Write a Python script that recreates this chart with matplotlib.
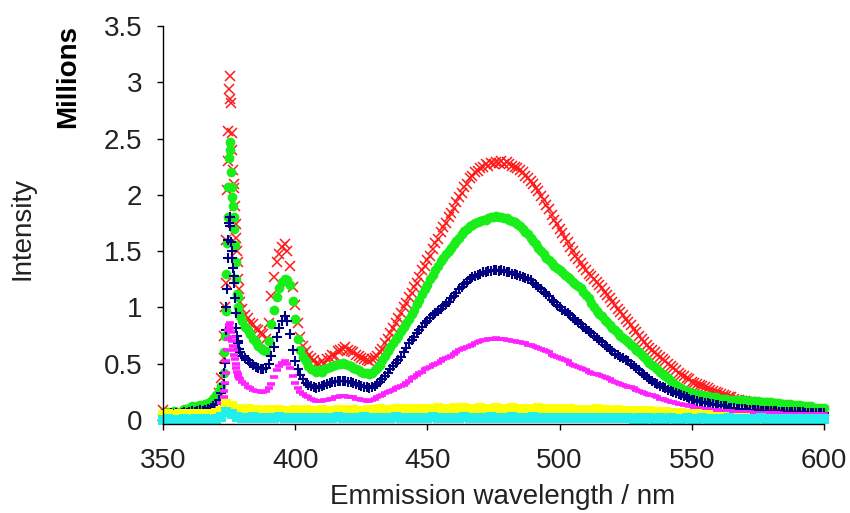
import numpy as np
import matplotlib.pyplot as plt

plt.rcParams['font.family'] = ['Liberation Sans', 'DejaVu Sans']

# wavelength grid (nm): 1 nm steps, finer sampling across the 375 nm line
wavelength = np.concatenate([np.arange(350, 373), np.arange(373, 379, 0.25), np.arange(379, 601)])

# intensities in millions of counts
red = [
    0.09, 0.05, 0.04, 0.06, 0.04, 0.05, 0.03, 0.06, 0.05, 0.04,
    0.06, 0.05, 0.07, 0.06, 0.06, 0.08, 0.09, 0.09, 0.12, 0.13, 0.18, 0.24, 0.37,
    0.55, 0.75, 1.00, 1.22, 1.60, 2.04, 2.30, 2.57, 2.94, 3.06, 2.85, 2.82,
    2.55, 2.40, 2.22, 2.10, 2.06, 1.90, 1.74, 1.62, 1.50, 1.40, 1.25, 1.16,
    1.05, 0.99, 0.93, 0.91, 0.86, 0.85, 0.81, 0.80, 0.77, 0.76, 0.72,
    0.86, 1.10, 1.27, 1.40, 1.47, 1.54, 1.56, 1.50, 1.37, 1.18,
    1.02, 0.86, 0.74, 0.66, 0.61, 0.57, 0.55, 0.53, 0.50, 0.50,
    0.52, 0.50, 0.54, 0.55, 0.58, 0.57, 0.61, 0.62, 0.63, 0.65,
    0.62, 0.61, 0.60, 0.58, 0.57, 0.55, 0.54, 0.53, 0.52, 0.54,
    0.55, 0.57, 0.60, 0.63, 0.68, 0.72, 0.77, 0.82, 0.86, 0.91,
    0.95, 1.00, 1.04, 1.09, 1.13, 1.18, 1.22, 1.27, 1.33, 1.37,
    1.42, 1.46, 1.52, 1.57, 1.61, 1.67, 1.71, 1.75, 1.80, 1.84,
    1.88, 1.94, 1.98, 2.02, 2.07, 2.10, 2.15, 2.17, 2.20, 2.21,
    2.24, 2.25, 2.27, 2.26, 2.28, 2.27, 2.29, 2.28, 2.30, 2.27,
    2.29, 2.27, 2.26, 2.25, 2.24, 2.22, 2.20, 2.17, 2.15, 2.12,
    2.10, 2.06, 2.03, 1.99, 1.95, 1.91, 1.87, 1.82, 1.78, 1.74,
    1.70, 1.66, 1.62, 1.58, 1.54, 1.50, 1.46, 1.43, 1.39, 1.36,
    1.33, 1.30, 1.28, 1.25, 1.23, 1.20, 1.17, 1.14, 1.11, 1.08,
    1.05, 1.02, 0.99, 0.96, 0.93, 0.90, 0.87, 0.84, 0.81, 0.78,
    0.75, 0.72, 0.69, 0.67, 0.64, 0.62, 0.60, 0.58, 0.56, 0.54,
    0.52, 0.50, 0.48, 0.46, 0.44, 0.42, 0.40, 0.39, 0.37, 0.36,
    0.34, 0.33, 0.32, 0.31, 0.30, 0.29, 0.28, 0.27, 0.26, 0.25,
    0.24, 0.23, 0.22, 0.21, 0.20, 0.20, 0.19, 0.18, 0.18, 0.17,
    0.17, 0.16, 0.16, 0.15, 0.15, 0.14, 0.14, 0.13, 0.13, 0.13,
    0.12, 0.12, 0.12, 0.11, 0.11, 0.11, 0.11, 0.10, 0.10, 0.10,
    0.10, 0.10, 0.09, 0.09, 0.09, 0.09, 0.09, 0.08, 0.08, 0.08,
    0.08,
]

green = [
    0.06, 0.05, 0.07, 0.06, 0.08, 0.07, 0.06, 0.08, 0.10, 0.09,
    0.11, 0.12, 0.11, 0.12, 0.13, 0.12, 0.14, 0.15, 0.17, 0.19, 0.22, 0.26, 0.30,
    0.42, 0.60, 0.75, 0.97, 1.30, 1.57, 1.80, 2.07, 2.33, 2.40, 2.47, 2.20,
    2.07, 1.98, 1.90, 1.80, 1.70, 1.55, 1.40, 1.25, 1.12, 1.09, 1.00, 0.94,
    0.92, 0.88, 0.83, 0.80, 0.76, 0.72, 0.69, 0.66, 0.64, 0.62, 0.61,
    0.70, 0.85, 0.98, 1.09, 1.17, 1.23, 1.25, 1.24, 1.20, 1.06,
    0.90, 0.72, 0.62, 0.56, 0.52, 0.48, 0.45, 0.44, 0.43, 0.44,
    0.43, 0.45, 0.46, 0.47, 0.48, 0.49, 0.50, 0.50, 0.51, 0.50,
    0.49, 0.48, 0.46, 0.45, 0.44, 0.43, 0.42, 0.42, 0.41, 0.42,
    0.44, 0.46, 0.49, 0.53, 0.57, 0.61, 0.65, 0.68, 0.72, 0.75,
    0.79, 0.83, 0.86, 0.90, 0.94, 0.98, 1.03, 1.07, 1.12, 1.16,
    1.20, 1.25, 1.29, 1.33, 1.37, 1.41, 1.44, 1.47, 1.50, 1.53,
    1.56, 1.59, 1.62, 1.65, 1.68, 1.70, 1.72, 1.73, 1.75, 1.76,
    1.77, 1.78, 1.78, 1.79, 1.80, 1.80, 1.81, 1.80, 1.80, 1.79,
    1.79, 1.78, 1.77, 1.76, 1.74, 1.72, 1.70, 1.67, 1.65, 1.62,
    1.59, 1.56, 1.53, 1.50, 1.47, 1.44, 1.42, 1.39, 1.37, 1.35,
    1.33, 1.31, 1.29, 1.27, 1.25, 1.23, 1.21, 1.19, 1.17, 1.14,
    1.11, 1.08, 1.04, 1.00, 0.97, 0.94, 0.92, 0.89, 0.87, 0.84,
    0.82, 0.80, 0.77, 0.75, 0.73, 0.71, 0.69, 0.67, 0.65, 0.62,
    0.60, 0.58, 0.56, 0.53, 0.51, 0.49, 0.47, 0.45, 0.43, 0.41,
    0.39, 0.37, 0.35, 0.33, 0.31, 0.29, 0.28, 0.27, 0.26, 0.25,
    0.24, 0.23, 0.23, 0.22, 0.22, 0.21, 0.21, 0.20, 0.20, 0.20,
    0.19, 0.19, 0.19, 0.19, 0.18, 0.18, 0.18, 0.18, 0.18, 0.18,
    0.18, 0.17, 0.17, 0.17, 0.17, 0.17, 0.16, 0.16, 0.16, 0.16,
    0.16, 0.15, 0.15, 0.15, 0.14, 0.14, 0.14, 0.14, 0.13, 0.13,
    0.13, 0.13, 0.12, 0.12, 0.12, 0.12, 0.11, 0.11, 0.11, 0.11,
    0.11,
]

navy = [
    0.05, 0.04, 0.05, 0.06, 0.05, 0.06, 0.05, 0.06, 0.07, 0.06,
    0.07, 0.08, 0.07, 0.08, 0.09, 0.08, 0.09, 0.10, 0.11, 0.12, 0.14, 0.18, 0.24,
    0.32, 0.42, 0.51, 0.80, 1.00, 1.16, 1.44, 1.60, 1.75, 1.80, 1.72, 1.58,
    1.50, 1.44, 1.35, 1.28, 1.22, 1.08, 0.95, 0.82, 0.75, 0.70, 0.68, 0.63,
    0.60, 0.57, 0.55, 0.53, 0.51, 0.49, 0.47, 0.46, 0.45, 0.45, 0.46,
    0.50, 0.57, 0.65, 0.74, 0.82, 0.88, 0.92, 0.88, 0.76, 0.62,
    0.52, 0.45, 0.40, 0.36, 0.33, 0.31, 0.30, 0.29, 0.28, 0.29,
    0.30, 0.31, 0.32, 0.33, 0.34, 0.34, 0.35, 0.35, 0.35, 0.35,
    0.34, 0.34, 0.33, 0.32, 0.31, 0.30, 0.29, 0.29, 0.28, 0.29,
    0.30, 0.32, 0.34, 0.36, 0.39, 0.42, 0.45, 0.48, 0.51, 0.53,
    0.56, 0.60, 0.64, 0.68, 0.71, 0.74, 0.77, 0.80, 0.83, 0.86,
    0.88, 0.91, 0.93, 0.95, 0.97, 0.99, 1.01, 1.03, 1.05, 1.08,
    1.10, 1.13, 1.16, 1.18, 1.21, 1.23, 1.25, 1.27, 1.28, 1.29,
    1.30, 1.31, 1.31, 1.32, 1.32, 1.33, 1.33, 1.32, 1.33, 1.32,
    1.31, 1.31, 1.30, 1.30, 1.29, 1.28, 1.27, 1.26, 1.25, 1.24,
    1.22, 1.20, 1.18, 1.16, 1.14, 1.12, 1.10, 1.07, 1.05, 1.02,
    1.00, 0.98, 0.97, 0.95, 0.93, 0.91, 0.89, 0.87, 0.85, 0.83,
    0.81, 0.79, 0.77, 0.75, 0.73, 0.71, 0.69, 0.67, 0.65, 0.63,
    0.61, 0.59, 0.58, 0.56, 0.55, 0.53, 0.52, 0.50, 0.48, 0.46,
    0.44, 0.42, 0.40, 0.38, 0.36, 0.35, 0.33, 0.32, 0.30, 0.29,
    0.28, 0.27, 0.26, 0.25, 0.24, 0.23, 0.22, 0.21, 0.20, 0.19,
    0.18, 0.18, 0.17, 0.16, 0.16, 0.15, 0.15, 0.14, 0.14, 0.13,
    0.13, 0.12, 0.12, 0.12, 0.11, 0.11, 0.11, 0.10, 0.10, 0.10,
    0.10, 0.09, 0.09, 0.09, 0.09, 0.09, 0.08, 0.08, 0.08, 0.08,
    0.08, 0.08, 0.08, 0.07, 0.07, 0.07, 0.07, 0.07, 0.07, 0.07,
    0.07, 0.07, 0.07, 0.06, 0.06, 0.06, 0.06, 0.06, 0.06, 0.06,
    0.06,
]

magenta = [
    0.04, 0.03, 0.04, 0.04, 0.03, 0.04, 0.04, 0.05, 0.04, 0.04,
    0.05, 0.04, 0.05, 0.05, 0.06, 0.05, 0.06, 0.06, 0.07, 0.08, 0.09, 0.11, 0.15,
    0.20, 0.26, 0.33, 0.42, 0.52, 0.62, 0.72, 0.80, 0.84, 0.86, 0.82, 0.78,
    0.74, 0.70, 0.66, 0.62, 0.58, 0.54, 0.50, 0.46, 0.43, 0.41, 0.39, 0.37,
    0.36, 0.34, 0.32, 0.29, 0.28, 0.27, 0.26, 0.26, 0.25, 0.25, 0.26,
    0.28, 0.32, 0.38, 0.44, 0.48, 0.51, 0.52, 0.50, 0.46, 0.39,
    0.33, 0.28, 0.25, 0.23, 0.21, 0.20, 0.19, 0.18, 0.17, 0.17,
    0.17, 0.18, 0.18, 0.19, 0.19, 0.20, 0.20, 0.21, 0.21, 0.21,
    0.20, 0.20, 0.20, 0.19, 0.19, 0.18, 0.18, 0.17, 0.17, 0.18,
    0.19, 0.20, 0.21, 0.22, 0.24, 0.25, 0.26, 0.27, 0.28, 0.29,
    0.30, 0.31, 0.33, 0.35, 0.37, 0.38, 0.40, 0.42, 0.43, 0.45,
    0.46, 0.47, 0.49, 0.50, 0.51, 0.52, 0.54, 0.55, 0.56, 0.57,
    0.59, 0.60, 0.62, 0.63, 0.64, 0.65, 0.66, 0.67, 0.68, 0.69,
    0.70, 0.71, 0.71, 0.72, 0.72, 0.72, 0.73, 0.72, 0.72, 0.72,
    0.71, 0.71, 0.70, 0.70, 0.69, 0.69, 0.68, 0.68, 0.67, 0.67,
    0.66, 0.65, 0.64, 0.63, 0.62, 0.61, 0.60, 0.58, 0.57, 0.56,
    0.55, 0.54, 0.53, 0.52, 0.50, 0.49, 0.48, 0.47, 0.46, 0.45,
    0.44, 0.43, 0.42, 0.41, 0.41, 0.40, 0.39, 0.38, 0.37, 0.36,
    0.35, 0.34, 0.33, 0.32, 0.31, 0.30, 0.29, 0.29, 0.28, 0.27,
    0.26, 0.25, 0.24, 0.23, 0.22, 0.22, 0.21, 0.20, 0.19, 0.19,
    0.18, 0.17, 0.16, 0.16, 0.15, 0.14, 0.14, 0.13, 0.13, 0.12,
    0.12, 0.11, 0.11, 0.11, 0.10, 0.10, 0.10, 0.09, 0.09, 0.09,
    0.09, 0.08, 0.08, 0.08, 0.08, 0.08, 0.07, 0.07, 0.07, 0.07,
    0.07, 0.07, 0.07, 0.06, 0.06, 0.06, 0.06, 0.06, 0.06, 0.06,
    0.06, 0.06, 0.06, 0.06, 0.05, 0.05, 0.05, 0.05, 0.05, 0.05,
    0.05, 0.05, 0.05, 0.05, 0.05, 0.05, 0.05, 0.05, 0.05, 0.05,
    0.05,
]

# the two weak samples were recorded every 2 nm
wavelength_2nm = np.arange(350, 601, 2)

yellow = [
    0.04, 0.05, 0.04, 0.05, 0.04, 0.05, 0.05, 0.04, 0.05, 0.05,
    0.06, 0.08, 0.14, 0.12, 0.10, 0.09, 0.10, 0.09, 0.09, 0.08,
    0.09, 0.08, 0.09, 0.08, 0.08, 0.09, 0.08, 0.09, 0.08, 0.08,
    0.09, 0.08, 0.08, 0.09, 0.08, 0.09, 0.09, 0.08, 0.08, 0.09,
    0.09, 0.10, 0.09, 0.09, 0.10, 0.09, 0.10, 0.10, 0.09, 0.10,
    0.10, 0.10, 0.11, 0.10, 0.10, 0.11, 0.10, 0.11, 0.10, 0.10,
    0.11, 0.10, 0.10, 0.11, 0.10, 0.10, 0.11, 0.10, 0.10, 0.10,
    0.10, 0.11, 0.10, 0.10, 0.10, 0.10, 0.09, 0.10, 0.09, 0.09,
    0.09, 0.09, 0.10, 0.09, 0.09, 0.08, 0.09, 0.08, 0.08, 0.08,
    0.08, 0.07, 0.08, 0.07, 0.07, 0.07, 0.06, 0.06, 0.06, 0.05,
    0.05, 0.05, 0.04, 0.04, 0.03, 0.03, 0.03, 0.02, 0.02, 0.02,
    0.02, 0.01, 0.01, 0.01, 0.01, 0.01, 0.00, 0.01, 0.00, 0.01,
    0.00, 0.01, 0.00, 0.01, 0.00,
    0.01,
]

cyan = [
    0.00, 0.01, 0.00, 0.00, 0.01, 0.00, 0.01, 0.00, 0.01, 0.00,
    0.01, 0.03, 0.07, 0.05, 0.03, 0.02, 0.02, 0.03, 0.02, 0.02,
    0.02, 0.02, 0.03, 0.02, 0.02, 0.02, 0.02, 0.02, 0.02, 0.02,
    0.02, 0.02, 0.02, 0.03, 0.02, 0.02, 0.02, 0.02, 0.03, 0.02,
    0.02, 0.02, 0.02, 0.02, 0.03, 0.02, 0.02, 0.02, 0.02, 0.02,
    0.02, 0.03, 0.02, 0.02, 0.02, 0.02, 0.02, 0.03, 0.02, 0.02,
    0.02, 0.02, 0.03, 0.02, 0.02, 0.02, 0.03, 0.02, 0.02, 0.02,
    0.03, 0.02, 0.02, 0.02, 0.02, 0.02, 0.02, 0.02, 0.02, 0.02,
    0.02, 0.02, 0.02, 0.02, 0.02, 0.02, 0.02, 0.02, 0.02, 0.01,
    0.02, 0.01, 0.02, 0.01, 0.02, 0.01, 0.02, 0.01, 0.01, 0.02,
    0.01, 0.01, 0.02, 0.01, 0.01, 0.01, 0.01, 0.02, 0.01, 0.01,
    0.01, 0.01, 0.01, 0.02, 0.01, 0.01, 0.01, 0.01, 0.01, 0.01,
    0.01, 0.01, 0.01, 0.01, 0.01,
    0.01,
]

x_ticks = [350, 400, 450, 500, 550, 600]
y_ticks = [0, 0.5, 1, 1.5, 2, 2.5, 3, 3.5]
y_tick_labels = ['0', '0.5', '1', '1.5', '2', '2.5', '3', '3.5']

fig = plt.figure(figsize=(8.5, 5.13), dpi=100)
ax = fig.add_axes([163 / 850, 1 - 424 / 513, 661 / 850, 398 / 513])

ax.plot(wavelength, red, ls='none', marker='x', ms=6.5, mew=1.1, color='#ff1a1a', clip_on=False)
ax.plot(wavelength, green, ls='none', marker='o', ms=7, mew=0, color='#1aee1a', clip_on=False)
ax.plot(wavelength, navy, ls='none', marker='+', ms=7, mew=1.5, color='#000080', clip_on=False)
ax.plot(wavelength, magenta, ls='none', marker='_', ms=5.5, mew=2.6, color='#ff22ff', clip_on=False)
ax.plot(wavelength_2nm, yellow, ls='none', marker='s', ms=7, mew=0, color='#ffff00', clip_on=False)
ax.plot(wavelength_2nm, cyan, ls='none', marker='s', ms=6.5, mew=0, color='#22eeee', clip_on=False)

ax.set_xlim(350, 600)
ax.set_ylim(-0.036, 3.5)
ax.set_xticks(x_ticks)
ax.set_yticks(y_ticks)
ax.set_yticklabels(y_tick_labels)

for side in ['top', 'right']:
    ax.spines[side].set_visible(False)
for side in ['left', 'bottom']:
    ax.spines[side].set_linewidth(1.0)
    ax.spines[side].set_color('black')

ax.tick_params(direction='out', length=4, width=1, labelsize=20, colors='black', labelcolor='#222222')
ax.tick_params(axis='y', pad=11)
ax.tick_params(axis='x', pad=13)

fig.text(503 / 850, 1 - 497 / 513, 'Emmission wavelength / nm', ha='center', va='center', fontsize=20, color='#222222')
fig.text(23 / 850, 1 - 228 / 513, 'Intensity', rotation=90, ha='center', va='center', fontsize=20, color='#222222')
fig.text(68 / 850, 1 - 76 / 513, 'Millions', rotation=90, ha='center', va='center', fontsize=20, fontweight='bold', color='black')

fig.savefig('out.png', dpi=100)
